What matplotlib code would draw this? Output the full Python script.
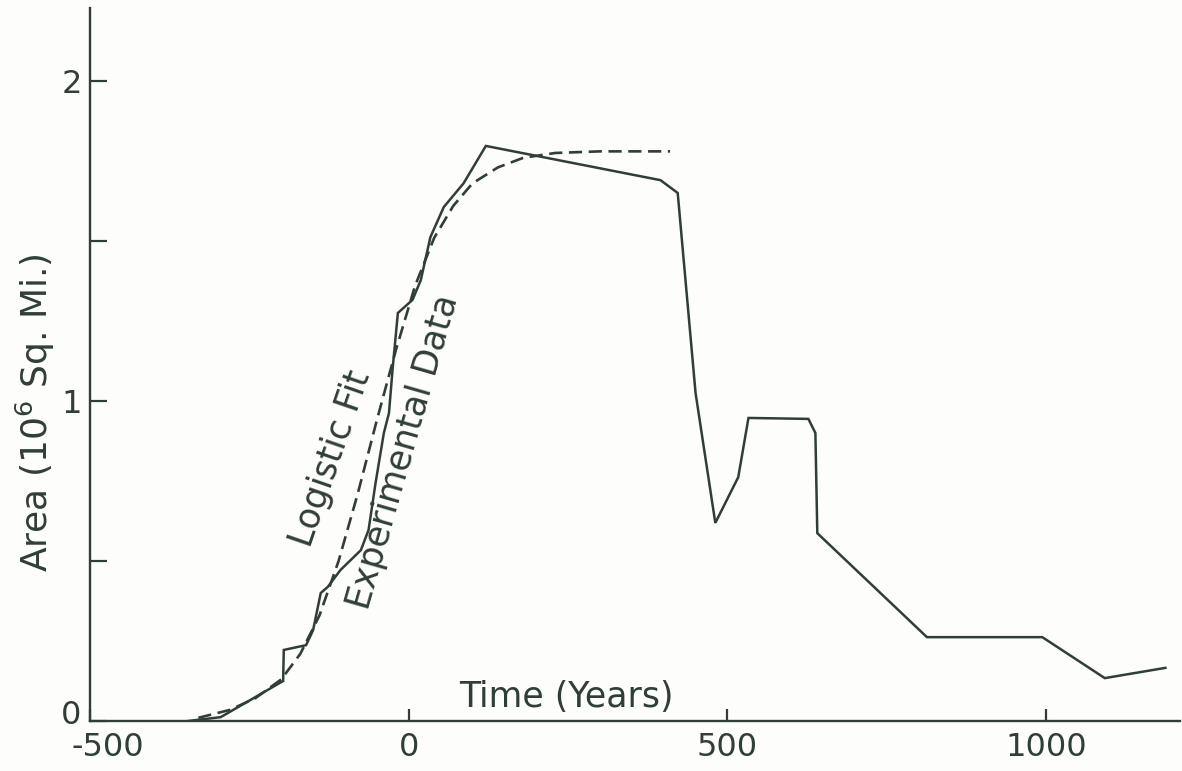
import matplotlib.pyplot as plt
import matplotlib.transforms as mtransforms
from matplotlib.ticker import FixedLocator

plt.rcParams['font.family'] = ['DejaVu Sans']
plt.rcParams['axes.unicode_minus'] = False

exp_years = [-346, -295, -197, -196, -161, -150, -138, -127, -107, -75, -63, -52,
             -39, -31, -25, -17, 6, 19, 34, 55, 86, 121, 395, 422, 450, 481,
             517, 533, 627, 638, 641, 813, 994, 1092, 1187]
exp_area = [0.0, 0.012, 0.125, 0.222, 0.237, 0.284, 0.40, 0.419, 0.472, 0.534, 0.597, 0.744,
            0.90, 0.962, 1.106, 1.275, 1.316, 1.378, 1.512, 1.606, 1.68, 1.797, 1.69, 1.65, 1.025, 0.619,
            0.762, 0.947, 0.944, 0.90, 0.587, 0.262, 0.262, 0.134, 0.166]

# logistic fit (dashed line)
fit_years = [-330, -280, -240, -200, -170, -140, -110, -80, -50, -20, 10, 40, 70,
             100, 140, 180, 230, 300, 410]
fit_area = [0.01, 0.035, 0.072, 0.13, 0.21, 0.33, 0.50, 0.71, 0.94, 1.16, 1.36, 1.51, 1.61,
            1.68, 1.73, 1.76, 1.775, 1.78, 1.78]

ink = '#2f3f35'

fig = plt.figure(figsize=(11.82, 7.71), dpi=100, facecolor='#fdfdfb')
ax = fig.add_axes([90 / 1182, 50 / 771, 1090 / 1182, 713 / 771])
ax.set_facecolor('#fdfdfb')

ax.plot(exp_years, exp_area, color=ink, lw=1.8, solid_joinstyle='miter')
ax.plot(fit_years, fit_area, color=ink, lw=1.9, linestyle=(0, (5, 2.5)))

ax.set_xlim(-500, 1210)
ax.set_ylim(0, 2.228)

for s in ['top', 'right']:
    ax.spines[s].set_visible(False)
for s in ['left', 'bottom']:
    ax.spines[s].set_color(ink)
    ax.spines[s].set_linewidth(1.7)

ax.set_xticks([-500, 0, 500, 1000])
ax.set_xticklabels(['-500', '0', '500', '1000'])
ax.set_yticks([0, 1, 2])
ax.set_yticklabels(['0', '1', '2'])
ax.yaxis.set_minor_locator(FixedLocator([0.5, 1.5]))
ax.tick_params(axis='both', which='both', direction='in', color=ink, width=1.6,
               labelcolor=ink, labelsize=23)
ax.tick_params(axis='x', which='major', length=9, pad=8)
ax.tick_params(axis='y', which='both', length=12, pad=6)

# corner labels sit a little apart, as in the original
ax.get_xticklabels()[0].set_transform(
    ax.get_xticklabels()[0].get_transform() + mtransforms.ScaledTranslation(0.18, 0, fig.dpi_scale_trans))
ax.get_yticklabels()[0].set_transform(
    ax.get_yticklabels()[0].get_transform() + mtransforms.ScaledTranslation(0, 0.09, fig.dpi_scale_trans))

ax.set_ylabel('Area (10$^6$ Sq. Mi.)', fontsize=26, color=ink)
ax.yaxis.set_label_coords(-0.030, 0.433)

ax.text(248, 0.075, 'Time (Years)', fontsize=25, color=ink, ha='center', va='center')
ax.text(-122, 0.82, 'Logistic Fit', fontsize=25, color=ink, ha='center', va='center',
        rotation=71, rotation_mode='anchor')
ax.text(-8, 0.84, 'Experimental Data', fontsize=25, color=ink, ha='center', va='center',
        rotation=74, rotation_mode='anchor')

fig.savefig('out.png', dpi=100, facecolor=fig.get_facecolor())
